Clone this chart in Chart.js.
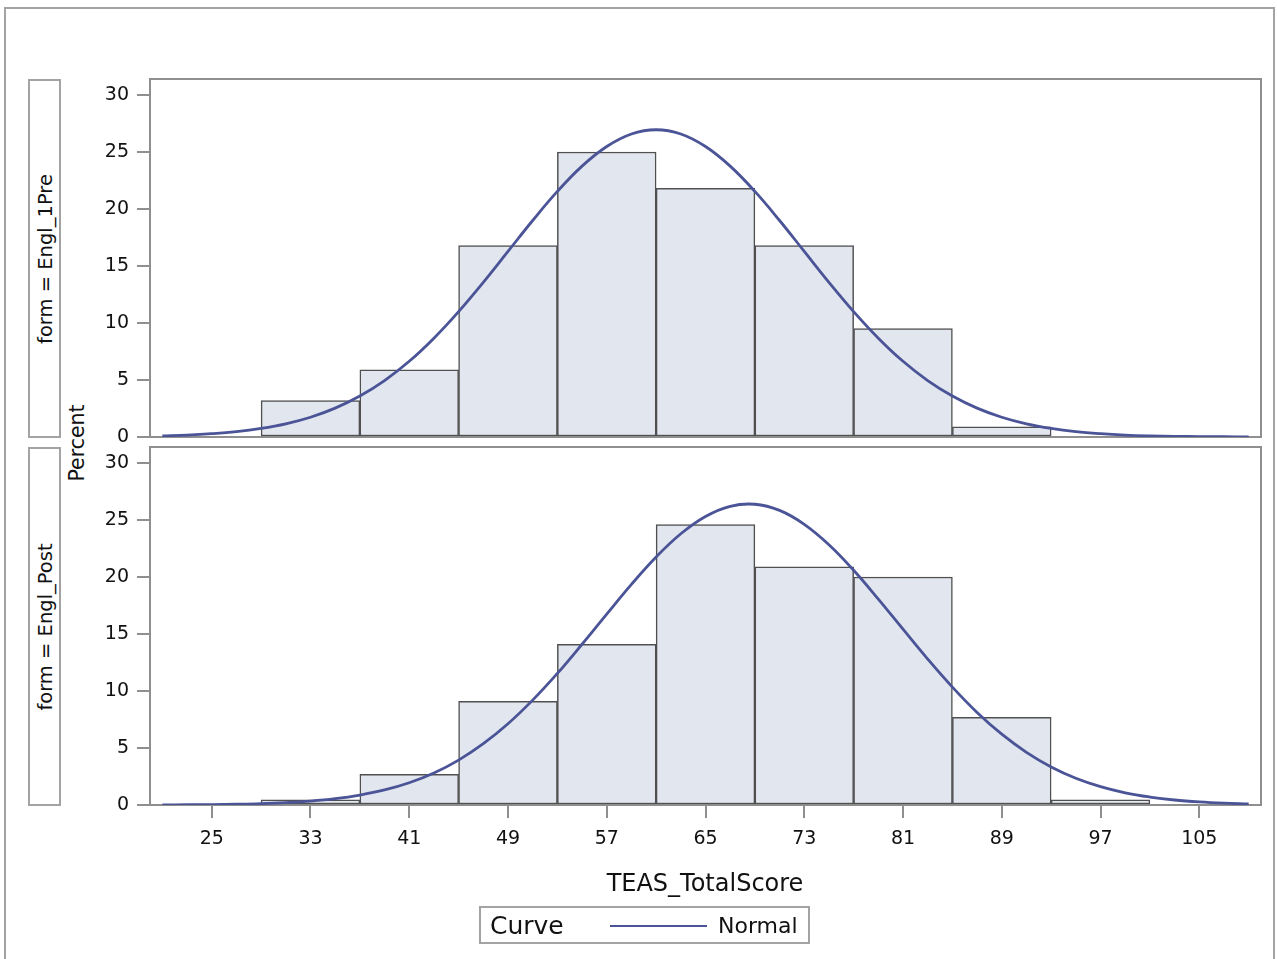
<!DOCTYPE html>
<html>
<head>
<meta charset="utf-8">
<script src="https://cdn.jsdelivr.net/npm/chart.js"></script>
<style>
  body { margin: 0; background: #fff; font-family: "DejaVu Sans", sans-serif; color: #111; }
  #wrap { position: relative; width: 1277px; height: 959px; overflow: hidden; }
  #frame { position: absolute; left: 4px; top: 7px; width: 1271px; height: 960px; border: 2px solid #a3a3a3; box-sizing: border-box; }
  canvas { position: absolute; left: 0; top: 0; }
  .strip { position: absolute; left: 28px; width: 33px; border: 2px solid #a3a3a3; box-sizing: border-box; }
  .rot { position: absolute; white-space: nowrap; transform: translate(-50%, -50%) rotate(-90deg); }
  .strip .rot { left: 50%; top: 50%; font-size: 19.5px; }
  #ylab { left: 77px; top: 443px; font-size: 20.5px; }
  #xlab { position: absolute; left: 705px; top: 883px; transform: translate(-50%, -50%); font-size: 24px; white-space: nowrap; }
  #legend { position: absolute; left: 479px; top: 906px; width: 331px; height: 38px; border: 2px solid #a3a3a3; box-sizing: border-box; }
  #legend span { position: absolute; top: 50%; transform: translateY(-50%); white-space: nowrap; }
  #legLine { position: absolute; left: 129px; top: 17px; width: 97px; height: 0; border-top: 2px solid #4a5497; }
</style>
</head>
<body>
<div id="wrap">
  <div id="frame"></div>
  <div class="strip" style="top:79px;height:359px;"><div class="rot">form = Engl_1Pre</div></div>
  <div class="strip" style="top:447px;height:359px;"><div class="rot">form = Engl_Post</div></div>
  <div class="rot" id="ylab">Percent</div>
  <canvas id="panelPost" width="1277" height="959"></canvas>
  <canvas id="panelPre" width="1277" height="959"></canvas>
  <div id="xlab">TEAS_TotalScore</div>
  <div id="legend">
    <span style="left:9px;font-size:25px;">Curve</span>
    <div id="legLine"></div>
    <span style="left:237px;font-size:22px;">Normal</span>
  </div>
</div>
<script>
// bins (midpoints) and percent per bin
const binMids = [33, 41, 49, 57, 65, 73, 81, 89, 97];
const prePercent = [3.2, 5.9, 16.8, 25.0, 21.8, 16.8, 9.5, 0.9, null];
const postPercent = [0.45, 2.7, 9.1, 14.1, 24.6, 20.9, 20.0, 7.7, 0.45];

// normal curve
const curveX = [21, 23, 25, 27, 29, 31, 33, 35, 37, 39, 41, 43, 45, 47, 49, 51, 53, 55, 57, 59, 61, 63, 65,
  67, 69, 71, 73, 75, 77, 79, 81, 83, 85, 87, 89, 91, 93, 95, 97, 99, 101, 103, 105, 107, 109];
const preCurve = [0.10, 0.17, 0.29, 0.47, 0.75, 1.15, 1.73, 2.53, 3.59, 4.95, 6.64, 8.67, 11.00, 13.57, 16.28,
  18.99, 21.54, 23.76, 25.48, 26.58, 26.95, 26.58, 25.48, 23.76, 21.54, 18.99, 16.28, 13.57, 11.00, 8.67,
  6.64, 4.95, 3.59, 2.53, 1.73, 1.15, 0.75, 0.47, 0.29, 0.17, 0.10, 0.06, 0.03, 0.02, 0.01];
const postCurve = [0.01, 0.02, 0.04, 0.07, 0.12, 0.21, 0.34, 0.55, 0.87, 1.32, 1.95, 2.81, 3.94, 5.38, 7.13,
  9.20, 11.54, 14.10, 16.74, 19.35, 21.75, 23.79, 25.31, 26.20, 26.38, 25.84, 24.62, 22.83, 20.59, 18.06,
  15.42, 12.80, 10.34, 8.12, 6.21, 4.62, 3.34, 2.35, 1.61, 1.07, 0.70, 0.44, 0.27, 0.16, 0.09];

const xTicks = [25, 33, 41, 49, 57, 65, 73, 81, 89, 97, 105];
const yTicks = [0, 5, 10, 15, 20, 25, 30];

const axisGray = '#8f8f8f';
const barFill = '#e2e6ef';
const barEdge = '#505050';
const curveColor = '#4a5497';

// gray box round the plot area
const framePlugin = {
  id: 'frame',
  beforeDatasetsDraw(chart) {
    const a = chart.chartArea;
    const ctx = chart.ctx;
    ctx.save();
    ctx.strokeStyle = axisGray;
    ctx.lineWidth = 2;
    ctx.strokeRect(a.left, a.top, a.right - a.left, a.bottom - a.top);
    ctx.restore();
  }
};

function makePanel(id, percent, curve, top, showX) {
  const bars = [];
  binMids.forEach((m, i) => {
    if (percent[i] != null) bars.push({ x: m, y: percent[i] });
  });
  const line = curveX.map((x, i) => ({ x: x, y: curve[i] }));

  return new Chart(document.getElementById(id), {
    type: 'bar',
    data: {
      datasets: [
        {
          type: 'line',
          data: line,
          borderColor: curveColor,
          borderWidth: 2.8,
          pointRadius: 0,
          tension: 0.4,
          order: 0
        },
        {
          type: 'bar',
          data: bars,
          backgroundColor: barFill,
          borderColor: barEdge,
          borderWidth: 1.5,
          borderSkipped: false,
          barPercentage: 1,
          categoryPercentage: 1,
          order: 1
        }
      ]
    },
    options: {
      responsive: false,
      animation: false,
      layout: {
        padding: { left: 0, right: 1277 - 1261, top: top, bottom: showX ? 959 - 805 - 45 : 959 - 437 }
      },
      plugins: { legend: { display: false }, tooltip: { enabled: false } },
      scales: {
        x: {
          type: 'linear',
          min: 20,
          max: 110,
          offset: false,
          display: showX,
          afterBuildTicks: (s) => { s.ticks = xTicks.map((v) => ({ value: v })); },
          afterFit: (s) => { s.height = showX ? 45 : 0; },
          grid: { offset: false, drawOnChartArea: false, drawTicks: true, tickLength: 13, color: axisGray, lineWidth: 2 },
          border: { display: true, color: axisGray, width: 2 },
          ticks: { color: '#111', padding: 10, maxRotation: 0, autoSkip: false, font: { family: 'DejaVu Sans', size: 19 } }
        },
        y: {
          min: 0,
          max: 31.4,
          afterBuildTicks: (s) => { s.ticks = yTicks.map((v) => ({ value: v })); },
          afterFit: (s) => { s.width = 150; },
          grid: { drawOnChartArea: false, drawTicks: true, tickLength: 13, color: axisGray, lineWidth: 2 },
          border: { display: true, color: axisGray, width: 2 },
          ticks: { color: '#111', padding: 8, font: { family: 'DejaVu Sans', size: 19 } }
        }
      }
    },
    plugins: [framePlugin]
  });
}

makePanel('panelPre', prePercent, preCurve, 79, false);
makePanel('panelPost', postPercent, postCurve, 447, true);
</script>
</body>
</html>
